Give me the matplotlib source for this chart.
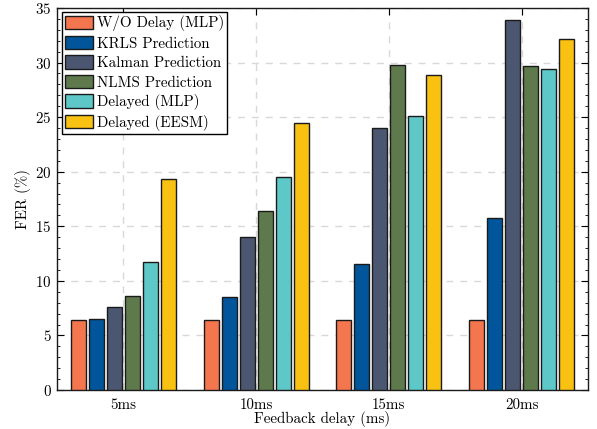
import matplotlib
matplotlib.use("Agg")
import matplotlib.pyplot as plt
import numpy as np
from matplotlib.ticker import MultipleLocator

plt.rcParams['font.family'] = 'serif'
plt.rcParams['font.serif'] = ['cmr10', 'DejaVu Serif']
plt.rcParams['mathtext.fontset'] = 'cm'
plt.rcParams['axes.unicode_minus'] = False
plt.rcParams['axes.formatter.use_mathtext'] = True

categories = ['5ms', '10ms', '15ms', '20ms']
series_names = ['W/O Delay (MLP)', 'KRLS Prediction', 'Kalman Prediction',
                'NLMS Prediction', 'Delayed (MLP)', 'Delayed (EESM)']
wo_delay = [6.4, 6.4, 6.4, 6.4]
krls = [6.5, 8.5, 11.55, 15.75]
kalman = [7.6, 14.0, 24.05, 33.9]
nlms = [8.6, 16.4, 29.8, 29.7]
delayed_mlp = [11.7, 19.5, 25.1, 29.4]
delayed_eesm = [19.3, 24.45, 28.9, 32.2]
values = [wo_delay, krls, kalman, nlms, delayed_mlp, delayed_eesm]
colors = ['#F4764E', '#00559B', '#4B5670', '#5E7A4C', '#5EC8C8', '#F9C112']

fs = 10.8
fig = plt.figure(figsize=(5.97, 4.29), dpi=100)
ax = fig.add_axes([57/597, 1 - 390/429, (588-57)/597, (390-8)/429])

x = np.arange(1, len(categories) + 1)
pitch = 0.1356
width = 0.113
for i, (name, vals, c) in enumerate(zip(series_names, values, colors)):
    ax.bar(x + (i - 2.5) * pitch, vals, width, color=c, edgecolor='#1a1a1a',
           linewidth=1.0, label=name, zorder=3)

ax.set_xlim(0.5, 4.5)
ax.set_ylim(0, 35)
ax.set_xticks(x)
ax.set_xticklabels(categories, fontsize=fs)
ax.yaxis.set_major_locator(MultipleLocator(5))
ax.yaxis.set_minor_locator(MultipleLocator(1))
ax.tick_params(axis='both', which='both', direction='in', top=True, right=True,
               labelsize=fs)
ax.tick_params(axis='x', which='major', length=5, bottom=False, pad=6)
ax.tick_params(axis='y', which='major', length=5, pad=4)
ax.tick_params(axis='y', which='minor', length=2.5)
ax.grid(True, which='major', linestyle=(0, (5, 5)), color='#d8d8d8',
        linewidth=1.0, zorder=0)
ax.set_axisbelow(True)
for s in ax.spines.values():
    s.set_linewidth(1.0)
    s.set_color('#1a1a1a')

ax.set_ylabel('FER (%)', fontsize=fs, labelpad=3)
ax.set_xlabel('Feedback delay (ms)', fontsize=fs, labelpad=-1)

leg = ax.legend(loc='upper left', fontsize=fs, frameon=True, fancybox=False,
                edgecolor='black', framealpha=1, borderaxespad=0.3,
                handlelength=1.9, handleheight=1.0, handletextpad=0.25,
                labelspacing=0.3, borderpad=0.2)
leg.get_frame().set_linewidth(1.0)

fig.savefig('out.png', dpi=100)
